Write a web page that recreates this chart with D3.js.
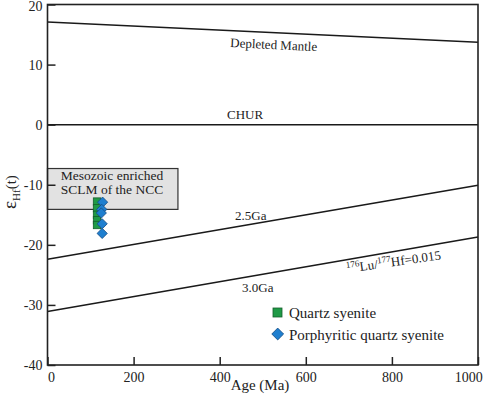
<!DOCTYPE html>
<html><head><meta charset="utf-8">
<script src="https://cdn.jsdelivr.net/npm/d3@7"></script>
<style>body{margin:0;background:#fff;} svg text{font-family:"Liberation Serif","Times New Roman",serif !important;fill:#222;}</style>
</head><body><svg id="c" width="484" height="396"></svg>
<script>
const xTicks = [0, 200, 400, 600, 800, 1000];
const yTicks = [-40, -30, -20, -10, 0, 10, 20];
const dmLine = [[0, 17.1], [1000, 13.7]];
const churLine = [[0, 0], [1000, 0]];
const ga25Line = [[0, -22.4], [1000, -10.1]];
const ga30Line = [[0, -31.1], [1000, -18.7]];
const sclmX = [0, 303];
const sclmY = [-14.1, -7.3];
const quartzAge = [115, 115, 115, 115, 115];
const quartzEHf = [-12.8, -13.9, -15.0, -15.9, -16.7];
const porphAge = [128, 126, 125, 127, 127];
const porphEHf = [-12.9, -14.1, -14.7, -16.5, -18.1];

const FF = "Liberation Serif, Times New Roman, serif";
const svg = d3.select("#c").attr("font-family", FF);
const x = d3.scaleLinear().domain([0, 1000]).range([47.5, 478]);
const y = d3.scaleLinear().domain([-40, 20]).range([365, 4.5]);
const line = d3.line().x(d => x(d[0])).y(d => y(d[1]));

// SCLM box
svg.append("rect").attr("x", x(sclmX[0])).attr("y", y(sclmY[1]))
  .attr("width", x(sclmX[1]) - x(sclmX[0])).attr("height", y(sclmY[0]) - y(sclmY[1]))
  .attr("fill", "#e2e2e2").attr("stroke", "#333").attr("stroke-width", 1.2);
svg.append("text").attr("x", 112).attr("y", 180).attr("text-anchor", "middle")
  .attr("font-size", 13.5).text("Mesozoic enriched");
svg.append("text").attr("x", 112).attr("y", 194).attr("text-anchor", "middle")
  .attr("font-size", 13.5).text("SCLM of the NCC");

// reference lines
[dmLine, churLine, ga25Line, ga30Line].forEach(l => {
  svg.append("path").attr("d", line(l)).attr("fill", "none").attr("stroke", "#1a1a1a").attr("stroke-width", 1.5);
});

// axes
const gy = svg.append("g").attr("transform", `translate(${x(0)},0)`)
  .call(d3.axisLeft(y).tickValues(yTicks).tickSize(-8).tickPadding(5).tickFormat(d => String(d)));
gy.attr("font-family", FF).attr("font-size", 14);
gy.select(".domain").remove();
gy.selectAll("text").attr("fill", "#222").attr("dy", d => d === 20 ? "0.45em" : "0.32em");
gy.selectAll("line").attr("stroke", "#222").attr("stroke-width", 1.5);
const gx = svg.append("g").attr("transform", `translate(0,${y(-40)})`)
  .call(d3.axisBottom(x).tickValues(xTicks).tickSize(-8).tickPadding(7).tickFormat(d => String(d)));
gx.attr("font-family", FF).attr("font-size", 14);
gx.select(".domain").remove();
gx.selectAll("text").attr("fill", "#222").attr("dx", d => d === 1000 ? "-0.7em" : (d === 0 ? "0.25em" : 0));
gx.selectAll("line").attr("stroke", "#222").attr("stroke-width", 1.5);

svg.append("rect").attr("x", x(0)).attr("y", y(20)).attr("width", x(1000) - x(0)).attr("height", y(-40) - y(20))
  .attr("fill", "none").attr("stroke", "#222").attr("stroke-width", 1.6);

// line labels
const dmAng = Math.atan2(y(dmLine[1][1]) - y(dmLine[0][1]), x(1000) - x(0)) * 180 / Math.PI;
svg.append("text").attr("transform", `translate(230,47) rotate(${dmAng})`).attr("font-size", 13).text("Depleted Mantle");
svg.append("text").attr("x", 227).attr("y", 119).attr("font-size", 13).text("CHUR");
svg.append("text").attr("x", 235).attr("y", 220).attr("font-size", 13).text("2.5Ga");
svg.append("text").attr("x", 242).attr("y", 292).attr("font-size", 13).text("3.0Ga");
const luAng = Math.atan2(y(ga30Line[1][1]) - y(ga30Line[0][1]), x(1000) - x(0)) * 180 / Math.PI;
const lu = svg.append("text").attr("transform", `translate(347,273) rotate(${luAng + 1.5})`).attr("font-size", 13);
lu.append("tspan").attr("font-size", 9).attr("dy", -5).text("176");
lu.append("tspan").attr("dy", 5).text("Lu/");
lu.append("tspan").attr("font-size", 9).attr("dy", -5).text("177");
lu.append("tspan").attr("dy", 5).text("Hf=0.015");

// axis titles
svg.append("text").attr("x", 260).attr("y", 390).attr("text-anchor", "middle").attr("font-size", 15).text("Age (Ma)");
const yl = svg.append("text").attr("transform", "translate(16,192) rotate(-90)").attr("text-anchor", "middle").attr("font-size", 19);
yl.append("tspan").text("ε");
yl.append("tspan").attr("font-size", 11).attr("dy", 4).text("Hf");
yl.append("tspan").attr("dy", -4).attr("font-size", 15).text("(t)");

// data
const green = "#1f9a46", blue = "#1f7fcf";
svg.append("g").selectAll("rect").data(quartzAge.map((a, i) => [a, quartzEHf[i]])).join("rect")
  .attr("x", d => x(d[0]) - 3.7).attr("y", d => y(d[1]) - 3.7).attr("width", 7.4).attr("height", 7.4)
  .attr("fill", green).attr("stroke", "#155f2b").attr("stroke-width", 0.8);
const dia = d3.symbol().type(d3.symbolSquare).size(52);
svg.append("g").selectAll("path").data(porphAge.map((a, i) => [a, porphEHf[i]])).join("path")
  .attr("d", dia).attr("transform", d => `translate(${x(d[0])},${y(d[1])}) rotate(45)`)
  .attr("fill", blue).attr("stroke", "#174f86").attr("stroke-width", 0.8);

// legend
svg.append("rect").attr("x", 273).attr("y", 308).attr("width", 9).attr("height", 9).attr("fill", green).attr("stroke", "#155f2b").attr("stroke-width", 0.8);
svg.append("text").attr("x", 289).attr("y", 318).attr("font-size", 15).text("Quartz syenite");
svg.append("path").attr("d", d3.symbol().type(d3.symbolSquare).size(70)).attr("transform", "translate(277.7,334) rotate(45)")
  .attr("fill", blue).attr("stroke", "#174f86").attr("stroke-width", 0.8);
svg.append("text").attr("x", 289).attr("y", 340).attr("font-size", 15).text("Porphyritic quartz syenite");
</script></body></html>
